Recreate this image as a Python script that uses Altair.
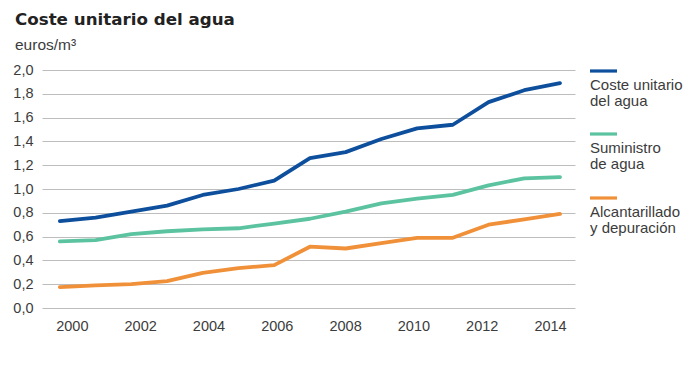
import altair as alt
import pandas as pd

years = list(range(2000, 2015))
coste = [0.73, 0.76, 0.81, 0.86, 0.95, 1.00, 1.07, 1.26, 1.31, 1.42, 1.51, 1.54, 1.73, 1.83, 1.89]
suministro = [0.56, 0.57, 0.62, 0.645, 0.66, 0.67, 0.71, 0.75, 0.81, 0.88, 0.92, 0.95, 1.03, 1.09, 1.10]
alcantarillado = [0.175, 0.19, 0.20, 0.225, 0.295, 0.335, 0.36, 0.515, 0.50, 0.545, 0.59, 0.59, 0.70, 0.745, 0.79]

series_names = ["Coste unitario del agua", "Suministro de agua", "Alcantarillado y depuración"]
legend_labels = ["Coste unitario\ndel agua", "Suministro\nde agua", "Alcantarillado\ny depuración"]
colors = ["#0d4f9c", "#5cc3a0", "#f0913a"]
x_ticks = [2000, 2002, 2004, 2006, 2008, 2010, 2012, 2014]
y_ticks = [0.0, 0.2, 0.4, 0.6, 0.8, 1.0, 1.2, 1.4, 1.6, 1.8, 2.0]
title_text = "Coste unitario del agua"
subtitle_text = "euros/m³"

FONT = "Liberation Sans"
TXT = "#3c3c3c"

rows = []
for name, vals in zip(series_names, [coste, suministro, alcantarillado]):
    for y, v in zip(years, vals):
        rows.append({"year": y, "value": v, "serie": name})
df = pd.DataFrame(rows)

lines = alt.Chart(df).mark_line(strokeWidth=3.8, strokeCap="round", strokeJoin="round").encode(
    x=alt.X("year:Q",
            scale=alt.Scale(domain=[1999.5, 2014.42], nice=False, zero=False),
            axis=alt.Axis(values=x_ticks, format="d", title=None, grid=False, domain=False,
                          ticks=False, labelPadding=11, labelFontSize=14.5, labelFont=FONT,
                          labelColor=TXT, labelOffset={"expr": "12 - (datum.value - 2000) * 1.57"})),
    y=alt.Y("value:Q",
            scale=alt.Scale(domain=[0, 2], nice=False),
            axis=alt.Axis(values=y_ticks, title=None, domain=False, ticks=False, labelPadding=9,
                          labelExpr="replace(format(datum.value, '.1f'), '.', ',')",
                          labelFontSize=14.5, labelFont=FONT, labelColor=TXT,
                          gridColor="#bdbdbd", gridWidth=1)),
    color=alt.Color("serie:N", scale=alt.Scale(domain=series_names, range=colors), legend=None),
)

layers = [lines]

title = alt.Chart(pd.DataFrame({"t": [title_text]})).mark_text(
    align="left", baseline="alphabetic", fontSize=16.7, fontWeight="bold", font="DejaVu Sans",
    color="#222222"
).encode(text="t:N", x=alt.value(-27), y=alt.value(-45))
subtitle = alt.Chart(pd.DataFrame({"t": [subtitle_text]})).mark_text(
    align="left", baseline="alphabetic", fontSize=15.5, font=FONT, color=TXT
).encode(text="t:N", x=alt.value(-27), y=alt.value(-20))
layers += [title, subtitle]

leg_y = [1, 64, 128]
for i, (lab, col) in enumerate(zip(legend_labels, colors)):
    ly = leg_y[i]
    rule = alt.Chart(pd.DataFrame({"s": [lab]})).mark_rule(color=col, strokeWidth=3.2).encode(
        x=alt.value(548), x2=alt.value(575), y=alt.value(ly))
    txt = alt.Chart(pd.DataFrame({"s": [lab]})).mark_text(
        align="left", baseline="alphabetic", fontSize=15, font=FONT, color=TXT,
        lineBreak="\n", lineHeight=16
    ).encode(text="s:N", x=alt.value(548), y=alt.value(ly + 19))
    layers += [rule, txt]

chart = alt.layer(*layers).properties(
    width=533, height=238,
    padding={"left": 34, "top": 62, "right": 115, "bottom": 40},
    autosize=alt.AutoSizeParams(type="none"),
    background="white",
).configure_view(stroke=None)

chart.save("out.html", embed_options={"renderer": "svg", "actions": False})
